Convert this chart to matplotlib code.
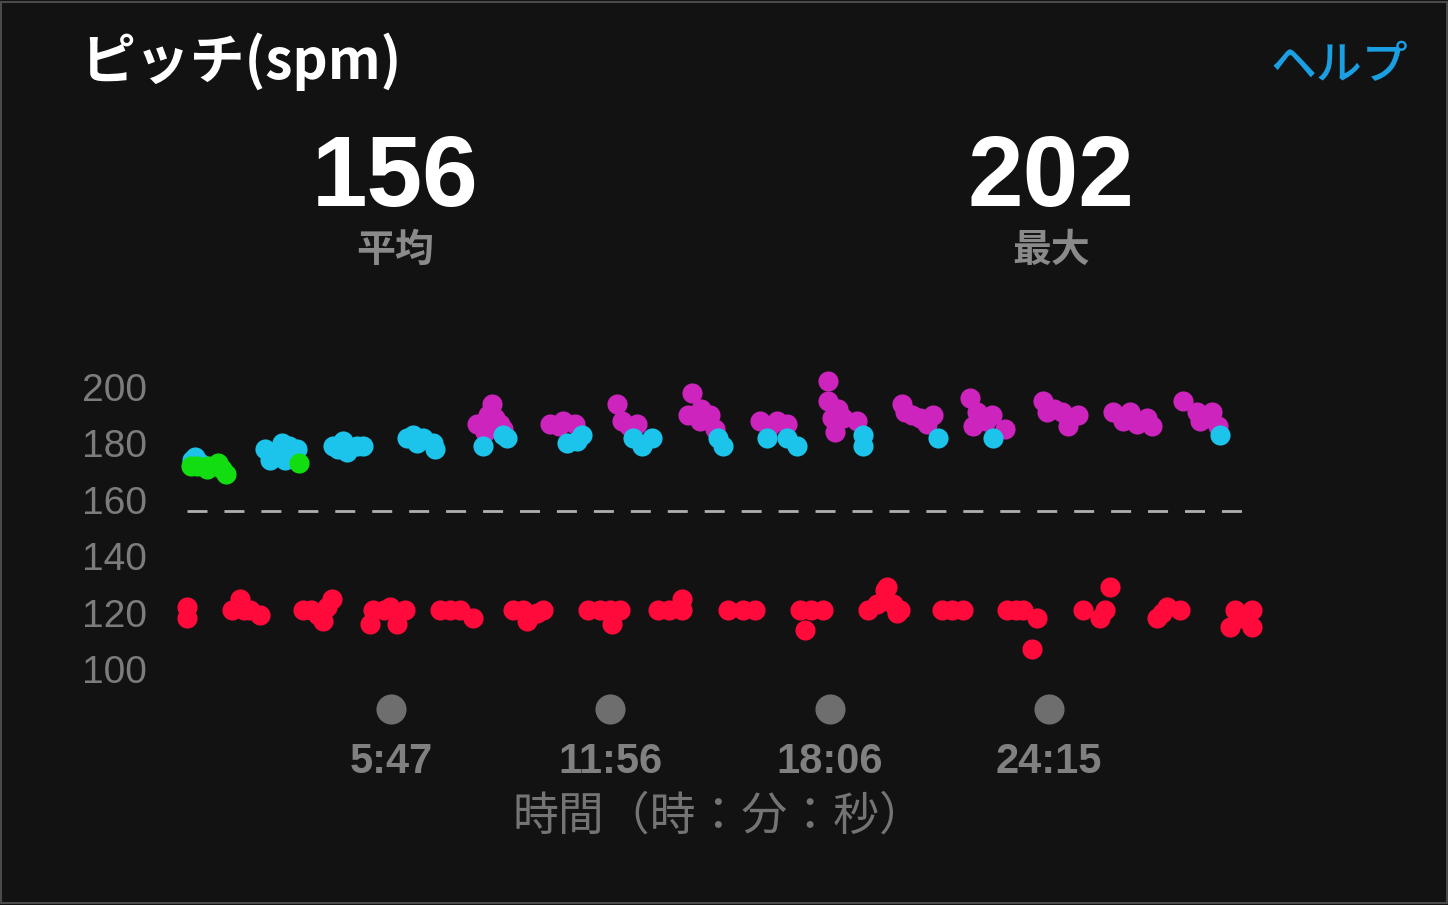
import matplotlib
matplotlib.use("Agg")
import matplotlib.pyplot as plt
import matplotlib.transforms as mtransforms
from matplotlib.patches import Rectangle

plt.rcParams['font.family'] = ['Noto Sans CJK JP', 'DejaVu Sans']

# ---------------- data ----------------
title = "ピッチ(spm)"
help_text = "ヘルプ"
avg_value = 156
max_value = 202
avg_label = "平均"
max_label = "最大"
x_label = "時間（時：分：秒）"

y_ticks = [100, 120, 140, 160, 180, 200]
x_tick_seconds = [347, 716, 1086, 1455]
x_tick_labels = ["5:47", "11:56", "18:06", "24:15"]

green_t = [11, 20, 37, 39, 56, 62, 69, 192]
green_v = [172, 172, 171, 172, 173, 171, 169, 173]

cyan_t = [12, 17, 25,
          135, 143, 150, 163, 168, 175, 189,
          249, 258, 266, 273, 290, 300,
          374, 385, 391, 401, 418, 421,
          502, 535, 543,
          644, 660, 669,
          755, 770, 787,
          898, 907,
          981, 1014, 1031,
          1142, 1142,
          1269, 1361, 1744]
cyan_v = [174, 175, 173,
          178, 174, 177, 180, 174, 179, 178,
          179, 178, 181, 177, 179, 179,
          182, 183, 180, 182, 180, 178,
          179, 183, 182,
          180, 181, 183,
          182, 179, 182,
          182, 179,
          182, 182, 179,
          183, 179,
          182, 182, 183]

magenta_t = [492, 505, 510, 517, 522, 531, 536,
             615, 630, 637, 657,
             728, 736, 748, 761,
             848, 854, 868, 870, 885, 893,
             969, 985, 998, 1014,
             1084, 1084, 1090, 1095, 1100, 1109, 1132,
             1208, 1213, 1225, 1239, 1250, 1260,
             1323, 1328, 1335, 1350, 1360, 1382,
             1446, 1453, 1465, 1478, 1488, 1505,
             1564, 1580, 1592, 1604, 1621, 1629,
             1682, 1705, 1710, 1720, 1731, 1741]
magenta_v = [187, 184, 190, 194, 189, 187, 185,
             187, 186, 188, 187,
             194, 188, 186, 187,
             190, 198, 188, 192, 190, 185,
             188, 186, 188, 187,
             202, 195, 189, 184, 192, 189, 188,
             194, 191, 190, 189, 187, 190,
             196, 186, 191, 188, 190, 185,
             195, 191, 192, 191, 186, 190,
             191, 188, 191, 187, 189, 186,
             195, 191, 188, 189, 191, 186]

red_t = [3, 3,
         79, 93, 100, 110, 126,
         199, 212, 224, 233, 239, 248,
         312, 317, 335, 345, 357, 371,
         430, 447, 463, 485,
         553, 570, 576, 593, 603,
         679, 700, 716, 720, 733,
         797, 815, 837, 837,
         915, 940, 961,
         1036, 1045, 1055, 1075,
         1151, 1166, 1180, 1183, 1193, 1200, 1205,
         1276, 1293, 1311,
         1385, 1400, 1412, 1427, 1436,
         1513, 1542, 1550, 1559,
         1638, 1646, 1655, 1677,
         1761, 1769, 1780, 1798, 1798]
red_v = [122, 118,
         121, 125, 121, 121, 119,
         121, 121, 119, 117, 122, 125,
         116, 121, 121, 122, 116, 121,
         121, 121, 121, 118,
         121, 121, 117, 120, 121,
         121, 121, 121, 116, 121,
         121, 121, 125, 121,
         121, 121, 121,
         121, 114, 121, 121,
         121, 123, 128, 129, 123, 120, 121,
         121, 121, 121,
         121, 121, 121, 107, 118,
         121, 118, 121, 129,
         118, 120, 122, 121,
         115, 121, 118, 121, 115]

# ---------------- style ----------------
BG = "#121212"
GREEN = "#11dd11"
CYAN = "#1cc3ea"
MAGENTA = "#cc24bc"
RED = "#ff0a3a"
GRAY_TICK = "#7c7c7c"
MS = 210

W, H = 1448, 905
fig = plt.figure(figsize=(W / 100, H / 100), dpi=100, facecolor=BG)

# frame around the figure
fig.patches.append(Rectangle((0.001, 0.002), 0.998, 0.996, transform=fig.transFigure,
                             fill=False, edgecolor="#4a4a4a", linewidth=1.5))

# axes geometry (pixel-based)
x0_px, x1_px = 173.1, 1265.2
y_top_px, y_bot_px = 370.0, 691.6
ax = fig.add_axes([x0_px / W, 1 - y_bot_px / H, (x1_px - x0_px) / W, (y_bot_px - y_top_px) / H])
ax.set_facecolor(BG)
ax.set_xlim(-20, 1820)
ax.set_ylim(92, 206)
for s in ax.spines.values():
    s.set_visible(False)

# average dashed line
all_t = green_t + cyan_t + magenta_t + red_t
ax.hlines(avg_value, min(all_t), max(all_t), colors="#b0b0b0", linewidth=2,
          linestyles=(0, (7.2, 6.1)), zorder=1)

ax.scatter(red_t, red_v, s=MS, color=RED, linewidths=0, zorder=3)
ax.scatter(magenta_t, magenta_v, s=MS, color=MAGENTA, linewidths=0, zorder=3)
ax.scatter(cyan_t, cyan_v, s=MS, color=CYAN, linewidths=0, zorder=4)
ax.scatter(green_t, green_v, s=MS, color=GREEN, linewidths=0, zorder=5)

# y ticks
ax.set_yticks(y_ticks)
ax.set_yticklabels([str(v) for v in y_ticks], fontsize=28, color=GRAY_TICK,
                   family=['Liberation Sans', 'DejaVu Sans'])
ax.tick_params(axis='y', length=0, pad=19)

# x ticks: gray dots + labels
ax.set_xticks(x_tick_seconds)
ax.set_xticklabels(x_tick_labels, fontsize=30, color="#808080", fontweight='bold',
                   family=['Liberation Sans', 'DejaVu Sans'])
ax.tick_params(axis='x', length=0, pad=36)
trans = mtransforms.blended_transform_factory(ax.transData, ax.transAxes)
ax.scatter(x_tick_seconds, [-0.055] * len(x_tick_seconds), s=470, color="#6e6e6e",
           linewidths=0, transform=trans, clip_on=False)

fig.text(719 / W, 1 - 816 / H, x_label, fontsize=33, color="#747474",
         ha='center', va='center')

# header texts
fig.text(80 / W, 1 - 62 / H, title, fontsize=39.5, color="white", fontweight='bold',
         ha='left', va='center')
fig.text(1408 / W, 1 - 66 / H, help_text, fontsize=33, color="#1a9fe3", fontweight='medium',
         ha='right', va='center')

fig.text(395 / W, 1 - 180 / H, str(avg_value), fontsize=72, color="white", fontweight='bold',
         ha='center', va='center', family=['Liberation Sans', 'DejaVu Sans'])
fig.text(1051 / W, 1 - 180 / H, str(max_value), fontsize=72, color="white", fontweight='bold',
         ha='center', va='center', family=['Liberation Sans', 'DejaVu Sans'])
fig.text(395 / W, 1 - 250 / H, avg_label, fontsize=28, color="#8a8a8a", fontweight='bold',
         ha='center', va='center')
fig.text(1051 / W, 1 - 250 / H, max_label, fontsize=28, color="#8a8a8a", fontweight='bold',
         ha='center', va='center')

fig.savefig("out.png", dpi=100, facecolor=BG)
